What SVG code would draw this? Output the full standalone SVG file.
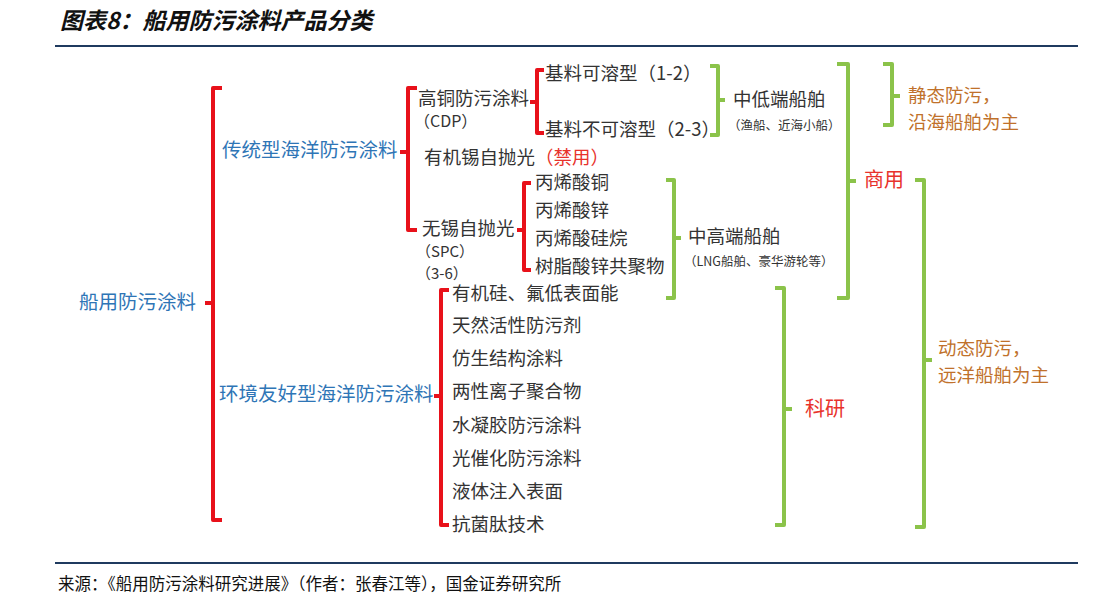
<svg xmlns="http://www.w3.org/2000/svg" width="1119" height="607" viewBox="0 0 1119 607">
<style>
text{font-family:"Noto Sans CJK SC","Liberation Sans",sans-serif;font-size:18.5px;fill:#333;dominant-baseline:middle}
.b{fill:#2e75b6;font-size:19.5px}.r{fill:#e8322b}.o{fill:#c0712b}.s{font-size:12.5px}
.rb{fill:none;stroke:#e8111a;stroke-width:4;stroke-linejoin:round}
.gb{fill:none;stroke:#8bc34a;stroke-width:4;stroke-linejoin:round}
</style>
<rect width="1119" height="607" fill="#fff"/>
<text x="60" y="23" style="font-size:23px;font-weight:bold;font-style:italic;fill:#111">图表8：船用防污涂料产品分类</text>
<line x1="55" y1="46" x2="1078" y2="46" stroke="#1f3a5f" stroke-width="2"/>
<line x1="55" y1="563" x2="1078" y2="563" stroke="#1f3a5f" stroke-width="2"/>
<text x="58" y="586" style="font-size:16.5px;fill:#111">来源：《船用防污涂料研究进展》（作者：张春江等），国金证券研究所</text>
<g id="connectors">
<path class="rb" d="M222,88H213V520H222M213,303H205"/>
<path class="rb" d="M417,88H408V230H417M408,152H400"/>
<path class="rb" d="M544,70H537V133H544M537,102H530"/>
<path class="rb" d="M531,183H524V270H531M524,230H517"/>
<path class="rb" d="M449,290H441V525H449M441,396H434"/>
<path class="gb" d="M710,66H718V135H710M718,100H725"/>
<path class="gb" d="M666,180H674V298H666M674,238H681"/>
<path class="gb" d="M837,64H848V298H837M848,181H856"/>
<path class="gb" d="M883,64H892V125H883M892,96H900"/>
<path class="gb" d="M775,288H784V525H775M784,409H792"/>
<path class="gb" d="M915,180H924V527H915M924,360H932"/>
</g>
<g id="root"><text x="79" y="304" class="b">船用防污涂料</text></g>
<g id="traditional"><text x="222" y="152" class="b">传统型海洋防污涂料</text></g>
<g id="cdp"><text x="418" y="100">高铜防污涂料</text><text x="414" y="123" style="font-size:16px">（CDP）</text></g>
<g id="sol"><text x="545" y="75">基料可溶型（1-2）</text></g>
<g id="insol"><text x="545" y="131">基料不可溶型（2-3）</text></g>
<g id="tin"><text x="424" y="159">有机锡自抛光<tspan class="r">（禁用）</tspan></text></g>
<g id="spc"><text x="422" y="230">无锡自抛光</text><text x="416" y="253" style="font-size:15px">（SPC）</text><text x="416" y="275" style="font-size:15px">（3-6）</text></g>
<g id="spc-items"><text x="535" y="184">丙烯酸铜</text><text x="535" y="212">丙烯酸锌</text><text x="535" y="240">丙烯酸硅烷</text><text x="535" y="268">树脂酸锌共聚物</text></g>
<g id="env"><text x="219" y="396" class="b">环境友好型海洋防污涂料</text></g>
<g id="env-items"><text x="452" y="295">有机硅、氟低表面能</text><text x="452" y="327">天然活性防污剂</text><text x="452" y="360">仿生结构涂料</text><text x="452" y="393">两性离子聚合物</text><text x="452" y="427">水凝胶防污涂料</text><text x="452" y="460">光催化防污涂料</text><text x="452" y="493">液体注入表面</text><text x="452" y="526">抗菌肽技术</text></g>
<g id="low"><text x="733" y="101">中低端船舶</text><text x="728" y="127" class="s">（渔船、近海小船）</text></g>
<g id="high"><text x="688" y="238">中高端船舶</text><text x="684" y="263" class="s">（LNG船舶、豪华游轮等）</text></g>
<g id="commercial"><text x="864" y="182" class="r" style="font-size:20px">商用</text></g>
<g id="static"><text x="908" y="97" class="o">静态防污，</text><text x="908" y="124" class="o">沿海船舶为主</text></g>
<g id="research"><text x="805" y="411" class="r" style="font-size:20px">科研</text></g>
<g id="dynamic"><text x="938" y="350" class="o">动态防污，</text><text x="938" y="377" class="o">远洋船舶为主</text></g>
</svg>
